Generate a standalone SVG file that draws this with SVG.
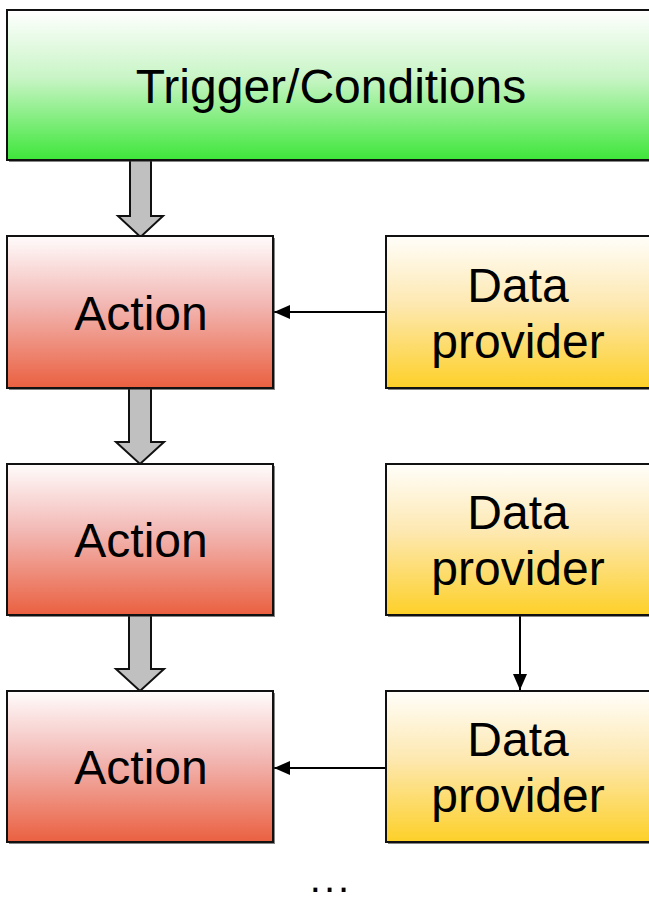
<svg xmlns="http://www.w3.org/2000/svg" width="649" height="901" viewBox="0 0 649 901">
<defs>
<linearGradient id="gGreen" x1="0" y1="0" x2="0" y2="1">
<stop offset="0" stop-color="#ffffff"/>
<stop offset="0.45" stop-color="#c9f5c6"/>
<stop offset="1" stop-color="#3ee63a"/>
</linearGradient>
<linearGradient id="gRed" x1="0" y1="0" x2="0" y2="1">
<stop offset="0" stop-color="#fffcfc"/>
<stop offset="0.45" stop-color="#f2b7b3"/>
<stop offset="1" stop-color="#ea6040"/>
</linearGradient>
<linearGradient id="gYellow" x1="0" y1="0" x2="0" y2="1">
<stop offset="0" stop-color="#fffefa"/>
<stop offset="0.45" stop-color="#fde8b0"/>
<stop offset="1" stop-color="#fdd028"/>
</linearGradient>
<marker id="ah" markerWidth="16" markerHeight="14" viewBox="0 0 16 14" refX="16" refY="7" orient="auto" markerUnits="userSpaceOnUse">
<path d="M0,0 L16,7 L0,14 Z" fill="#000"/>
</marker>
</defs>
<style>
.box{stroke:#111;stroke-width:2}
.shadow{fill:#333;opacity:0.6}
.lbl{font-family:"Liberation Sans",Arial,sans-serif;font-size:48px;fill:#000;text-anchor:middle}
.dots{font-family:"Liberation Sans",Arial,sans-serif;font-size:40px;letter-spacing:3px;fill:#000;text-anchor:middle}
.conn{stroke:#000;stroke-width:2;fill:none}
.big{fill:#c0c0c0;stroke:#111;stroke-width:2;stroke-linejoin:miter}
</style>
<rect width="649" height="901" fill="#fff"/>

<g id="connectors">
<path class="big" d="M130,160 L151,160 L151,216 L163,216 L140.5,237 L118,216 L130,216 Z"/>
<path class="big" d="M129,388 L151,388 L151,442 L164,442 L140,464 L116,442 L129,442 Z"/>
<path class="big" d="M129,615 L151,615 L151,669 L164,669 L140,691 L116,669 L129,669 Z"/>
<line class="conn" x1="386" y1="312" x2="274" y2="312" marker-end="url(#ah)"/>
<line class="conn" x1="520" y1="615" x2="520" y2="690" marker-end="url(#ah)"/>
<line class="conn" x1="386" y1="768" x2="274" y2="768" marker-end="url(#ah)"/>
</g>

<g id="trigger">
<rect class="shadow" x="9" y="12" width="660" height="150"/>
<rect class="box" x="7" y="10" width="660" height="150" fill="url(#gGreen)"/>
<text class="lbl" x="331" y="103">Trigger/Conditions</text>
</g>

<g id="action1">
<rect class="shadow" x="9" y="238" width="266" height="152"/>
<rect class="box" x="7" y="236" width="266" height="152" fill="url(#gRed)"/>
<text class="lbl" x="141" y="330">Action</text>
</g>
<g id="action2">
<rect class="shadow" x="9" y="466" width="266" height="151"/>
<rect class="box" x="7" y="464" width="266" height="151" fill="url(#gRed)"/>
<text class="lbl" x="141" y="557">Action</text>
</g>
<g id="action3">
<rect class="shadow" x="9" y="693" width="266" height="151"/>
<rect class="box" x="7" y="691" width="266" height="151" fill="url(#gRed)"/>
<text class="lbl" x="141" y="784">Action</text>
</g>

<g id="provider1">
<rect class="shadow" x="388" y="238" width="280" height="152"/>
<rect class="box" x="386" y="236" width="280" height="152" fill="url(#gYellow)"/>
<text class="lbl" x="518" y="302">Data</text>
<text class="lbl" x="518" y="358">provider</text>
</g>
<g id="provider2">
<rect class="shadow" x="388" y="466" width="280" height="151"/>
<rect class="box" x="386" y="464" width="280" height="151" fill="url(#gYellow)"/>
<text class="lbl" x="518" y="529">Data</text>
<text class="lbl" x="518" y="585">provider</text>
</g>
<g id="provider3">
<rect class="shadow" x="388" y="693" width="280" height="151"/>
<rect class="box" x="386" y="691" width="280" height="151" fill="url(#gYellow)"/>
<text class="lbl" x="518" y="756">Data</text>
<text class="lbl" x="518" y="812">provider</text>
</g>

<g id="ellipsis">
<text class="dots" x="331" y="892">...</text>
</g>
</svg>
